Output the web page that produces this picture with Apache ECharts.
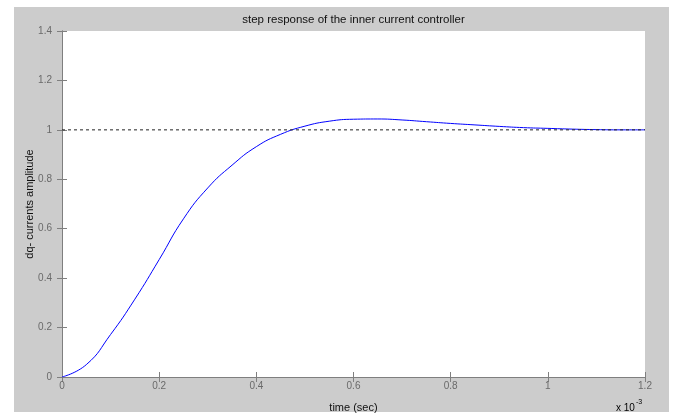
<!DOCTYPE html>
<html>
<head>
<meta charset="utf-8">
<script src="https://cdn.jsdelivr.net/npm/echarts@6/dist/echarts.min.js"></script>
<style>
  html, body { margin: 0; padding: 0; background: #fff; }
  #chart { width: 673px; height: 418px; }
</style>
</head>
<body>
<div id="chart"></div>
<script>
// time in units of 1e-3 s (axis shows x10^-3)
const timeScaled = [0, 0.05, 0.1, 0.15, 0.2, 0.25, 0.3, 0.35, 0.4, 0.45, 0.5, 0.55, 0.6, 0.65, 0.7, 0.75, 0.8, 0.85, 0.9, 0.95, 1.0, 1.05, 1.1, 1.15, 1.2]
const amplitude = [0, 0.05, 0.172, 0.315, 0.475, 0.64, 0.765, 0.857, 0.932, 0.982, 1.015, 1.035, 1.043, 1.044, 1.040, 1.033, 1.026, 1.02, 1.014, 1.009, 1.006, 1.003, 1.001, 1.0, 1.0]
const refTime = [0, 1.2]
const refLevel = [1, 1]
const xTicks = [0, 0.2, 0.4, 0.6, 0.8, 1, 1.2]
const yTicks = [0, 0.2, 0.4, 0.6, 0.8, 1, 1.2, 1.4]

const font = 'Liberation Sans, Arial, sans-serif'
const axisGray = '#7f7f7f'
const labelGray = '#6a6a6a'

const chart = echarts.init(document.getElementById('chart'))

const boxAxis = {
  show: true,
  axisLine: { show: true, lineStyle: { color: axisGray, width: 1 } },
  axisTick: { show: true, inside: true, length: 5, lineStyle: { color: axisGray } },
  axisLabel: { show: false },
  splitLine: { show: false }
}

chart.setOption({
  backgroundColor: '#fff',
  animation: false,
  graphic: [
    {
      type: 'rect',
      z: -10,
      shape: { x: 14, y: 7, width: 655, height: 405 },
      style: { fill: '#cccccc' }
    },
    {
      // title, centred over the plot box
      type: 'text',
      x: 353.5,
      y: 20,
      style: {
        text: 'step response of the inner current controller',
        fontFamily: font,
        fontSize: 11.5,
        fill: '#111',
        align: 'center',
        verticalAlign: 'middle'
      }
    },
    {
      type: 'text',
      left: 616,
      top: 399,
      style: {
        text: '{b|x 10}{s|-3}',
        rich: {
          b: { fontFamily: font, fontSize: 10, color: labelGray, padding: [6, 0, 0, 0] },
          s: { fontFamily: font, fontSize: 7, color: labelGray, padding: [0, 0, 6, 1] }
        }
      }
    }
  ],
  grid: {
    left: 62,
    right: 28,
    top: 31,
    bottom: 36,
    show: true,
    backgroundColor: '#fff',
    borderWidth: 0
  },
  xAxis: [
    {
      type: 'value',
      min: 0,
      max: 1.2,
      interval: 0.2,
      name: 'time (sec)',
      nameLocation: 'middle',
      nameGap: 25,
      nameTextStyle: { fontFamily: font, fontSize: 11, color: '#111' },
      axisLine: { show: true, onZero: false, lineStyle: { color: axisGray, width: 1 } },
      axisTick: { show: true, inside: true, length: 5, lineStyle: { color: axisGray } },
      axisLabel: {
        margin: 4,
        fontFamily: font,
        fontSize: 10,
        color: labelGray,
        formatter: v => String(xTicks.find(t => Math.abs(t - v) < 1e-9) ?? v)
      },
      splitLine: { show: false }
    },
    Object.assign({ type: 'value', position: 'top', min: 0, max: 1.2, interval: 0.2 }, boxAxis)
  ],
  yAxis: [
    {
      type: 'value',
      min: 0,
      max: 1.4,
      interval: 0.2,
      name: 'dq- currents amplitude',
      nameLocation: 'middle',
      nameGap: 27,
      nameMoveOverlap: false,
      nameTextStyle: { fontFamily: font, fontSize: 11, color: '#111' },
      axisLine: { show: true, onZero: false, lineStyle: { color: axisGray, width: 1 } },
      axisTick: { show: true, inside: true, length: 5, lineStyle: { color: axisGray } },
      axisLabel: {
        margin: 10,
        fontFamily: font,
        fontSize: 10,
        color: labelGray,
        formatter: v => String(yTicks.find(t => Math.abs(t - v) < 1e-9) ?? v)
      },
      splitLine: { show: false }
    },
    Object.assign({ type: 'value', position: 'right', min: 0, max: 1.4, interval: 0.2 }, boxAxis)
  ],
  series: [
    {
      type: 'line',
      data: timeScaled.map((t, i) => [t, amplitude[i]]),
      showSymbol: false,
      smooth: 0.5,
      lineStyle: { color: '#0000ff', width: 1 },
      silent: true
    },
    {
      type: 'line',
      data: refTime.map((t, i) => [t, refLevel[i]]),
      showSymbol: false,
      lineStyle: { color: '#222', width: 1, type: [3, 3] },
      silent: true
    }
  ]
})
</script>
</body>
</html>
